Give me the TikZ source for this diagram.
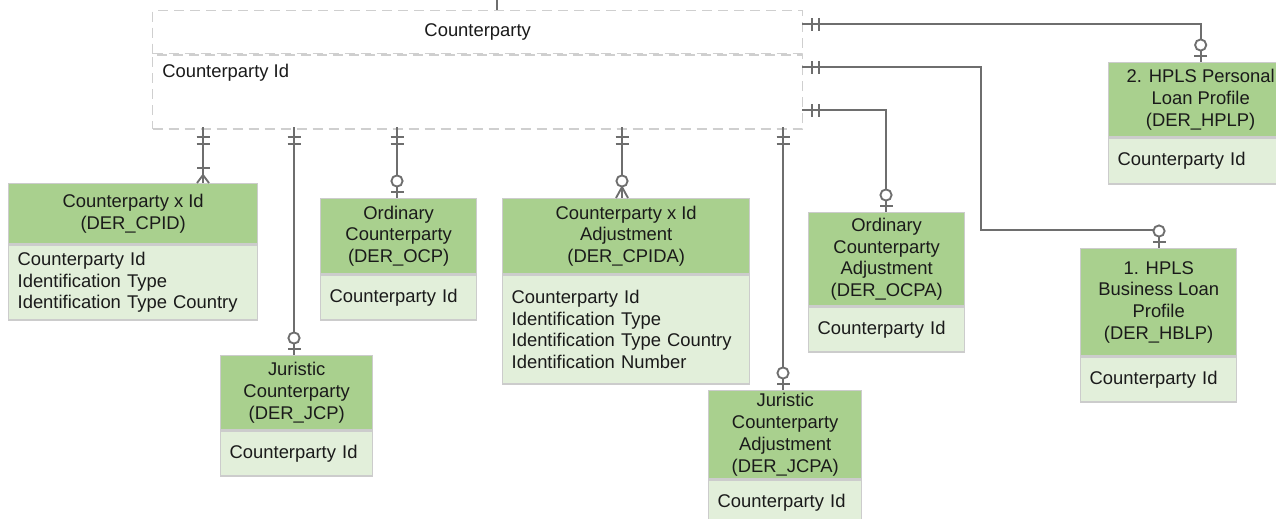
\documentclass[tikz,border=0pt]{standalone}
\usepackage{fontspec}
\setmainfont{Liberation Sans}
\usetikzlibrary{calc}
\definecolor{hdrc}{HTML}{A9D08E}
\definecolor{bodyc}{HTML}{E2EFDA}
\definecolor{bordc}{HTML}{CCCCCC}
\definecolor{dashc}{HTML}{CFCFCF}
\definecolor{connc}{HTML}{6E6E6E}
\definecolor{txtc}{HTML}{1A1A1A}
\newcommand{\erfont}{\fontsize{13.8pt}{16.3pt}\selectfont}
\tikzset{
  hdr/.style={draw=bordc, line width=1pt, fill=hdrc, anchor=north west, align=center, inner sep=0pt, font=\erfont, text=txtc},
  bodybox/.style={draw=bordc, line width=1pt, fill=bodyc, anchor=north west, align=left, inner xsep=6.75pt, inner ysep=0pt, font=\erfont, text=txtc},
  cpbox/.style={draw=dashc, line width=1pt, dash pattern=on 7.5pt off 4.5pt, fill=white, anchor=north west, inner sep=0pt, font=\erfont, text=txtc},
  conn/.style={draw=connc, line width=1.4pt},
  mone/.pic={\draw[conn] (10,-6.5)--(10,6.5) (17,-6.5)--(17,6.5);},
  zone/.pic={\draw[conn] (6,-6.5)--(6,6.5); \draw[conn, fill=white] (17,0) circle[radius=4.2pt];},
  zmany/.pic={\draw[conn] (0,-6)--(11,0)--(0,6); \draw[conn, fill=white] (17,0) circle[radius=4.2pt];},
  omany/.pic={\draw[conn] (0,-6)--(8,0)--(0,6); \draw[conn] (15,-6.5)--(15,6.5);}
}
\begin{document}
\begin{tikzpicture}[x=0.75pt, y=0.75pt]
\useasboundingbox (0,0) rectangle (1276,-518);
\clip (0,0) rectangle (1276,-518);
\fill[white] (0,0) rectangle (1276,-518);

% Counterparty (main entity)
\node[cpbox, minimum width=487.5pt, minimum height=32.25pt] (cp) at (152,-10) {};
\node[font=\erfont, text=txtc, inner sep=0pt] (cptitle) at (cp.center) {Counterparty};
\node[cpbox, minimum width=487.5pt, minimum height=55.5pt] (cpb) at (cp.south west) {};
\node[font=\erfont, text=txtc, inner sep=0pt, anchor=west] (cpattr) at (162,-73) {Counterparty Id};

% Counterparty x Id
\node[hdr, minimum width=186.75pt, minimum height=45pt] (cpid) at (8,-183) {Counterparty x Id\\(DER\_CPID)};
\node[bodybox, text width=173.25pt, minimum height=56.25pt] (cpidb) at (cpid.south west) {Counterparty Id\\Identification Type\\Identification Type Country};

% Ordinary Counterparty
\node[hdr, minimum width=117pt, minimum height=56.25pt] (ocp) at (320,-198) {Ordinary\\Counterparty\\(DER\_OCP)};
\node[bodybox, text width=103.5pt, minimum height=33.75pt] (ocpb) at (ocp.south west) {Counterparty Id};

% Juristic Counterparty
\node[hdr, minimum width=114pt, minimum height=55.5pt] (jcp) at (220,-355) {Juristic\\Counterparty\\(DER\_JCP)};
\node[bodybox, text width=100.5pt, minimum height=33.75pt] (jcpb) at (jcp.south west) {Counterparty Id};

% Counterparty x Id Adjustment
\node[hdr, minimum width=185.25pt, minimum height=56.25pt] (cpida) at (502,-198) {Counterparty x Id\\Adjustment\\(DER\_CPIDA)};
\node[bodybox, text width=171.75pt, minimum height=81.75pt] (cpidab) at (cpida.south west) {Counterparty Id\\Identification Type\\Identification Type Country\\Identification Number};

% Ordinary Counterparty Adjustment
\node[hdr, minimum width=117pt, minimum height=69.75pt] (ocpa) at (808,-212) {Ordinary\\Counterparty\\Adjustment\\(DER\_OCPA)};
\node[bodybox, text width=103.5pt, minimum height=33.75pt] (ocpab) at (ocpa.south west) {Counterparty Id};

% Juristic Counterparty Adjustment
\node[hdr, minimum width=114.75pt, minimum height=66pt] (jcpa) at (708,-390) {Juristic\\Counterparty\\Adjustment\\(DER\_JCPA)};
\node[bodybox, text width=101.25pt, minimum height=34.5pt] (jcpab) at (jcpa.south west) {Counterparty Id};

% 2. HPLS Personal Loan Profile
\node[hdr, minimum width=138pt, minimum height=55.5pt] (hplp) at (1108,-62) {2. HPLS Personal\\Loan Profile\\(DER\_HPLP)};
\node[bodybox, text width=124.5pt, minimum height=34.5pt] (hplpb) at (hplp.south west) {Counterparty Id};

% 1. HPLS Business Loan Profile
\node[hdr, minimum width=117pt, minimum height=80.25pt] (hblp) at (1080,-248) {1. HPLS\\Business Loan\\Profile\\(DER\_HBLP)};
\node[bodybox, text width=103.5pt, minimum height=33.75pt] (hblpb) at (hblp.south west) {Counterparty Id};

% connector leaving the top
\coordinate (topend) at (497,0);
\draw[draw=connc, line width=1pt] (topend) -- (topend |- cp.north);

% start points on Counterparty
\coordinate (s1) at (203,-127);
\coordinate (s2) at (294,-127);
\coordinate (s3) at (397,-127);
\coordinate (s4) at (622,-127);
\coordinate (s5) at (783,-127);
\coordinate (s6) at (802,-24);
\coordinate (s7) at (802,-67);
\coordinate (s8) at (802,-110);
% bends
\coordinate (b7a) at (981,-67);
\coordinate (b7b) at (981,-230);
\coordinate (b7c) at (1159,-230);
\coordinate (b8) at (886,-110);

% ends on the child entities
\coordinate (e1) at (s1 |- cpid.north);
\coordinate (e2) at (s2 |- jcp.north);
\coordinate (e3) at (s3 |- ocp.north);
\coordinate (e4) at (s4 |- cpida.north);
\coordinate (e5) at (s5 |- jcpa.north);
\coordinate (e6) at (hplp.north);
\coordinate (e7) at (b7c |- hblp.north);
\coordinate (e8) at (b8 |- ocpa.north);

% connectors
\draw[conn] (s1) -- (e1);
\draw[conn] (s2) -- (e2);
\draw[conn] (s3) -- (e3);
\draw[conn] (s4) -- (e4);
\draw[conn] (s5) -- (e5);
\draw[conn] (s6) -- (s6 -| e6) -- (e6);
\draw[conn] (s7) -- (b7a) -- (b7b) -- (b7c) -- (e7);
\draw[conn] (s8) -- (b8) -- (e8);

% markers at Counterparty
\foreach \s in {s1,s2,s3,s4,s5} { \pic[rotate=-90] at (\s) {mone}; }
\foreach \s in {s6,s7,s8} { \pic at (\s) {mone}; }

% markers at the child entities
\pic[rotate=90] at (e1) {omany};
\pic[rotate=90] at (e2) {zone};
\pic[rotate=90] at (e3) {zone};
\pic[rotate=90] at (e4) {zmany};
\pic[rotate=90] at (e5) {zone};
\pic[rotate=90] at (e6) {zone};
\pic[rotate=90] at (e7) {zone};
\pic[rotate=90] at (e8) {zone};
\end{tikzpicture}
\end{document}
